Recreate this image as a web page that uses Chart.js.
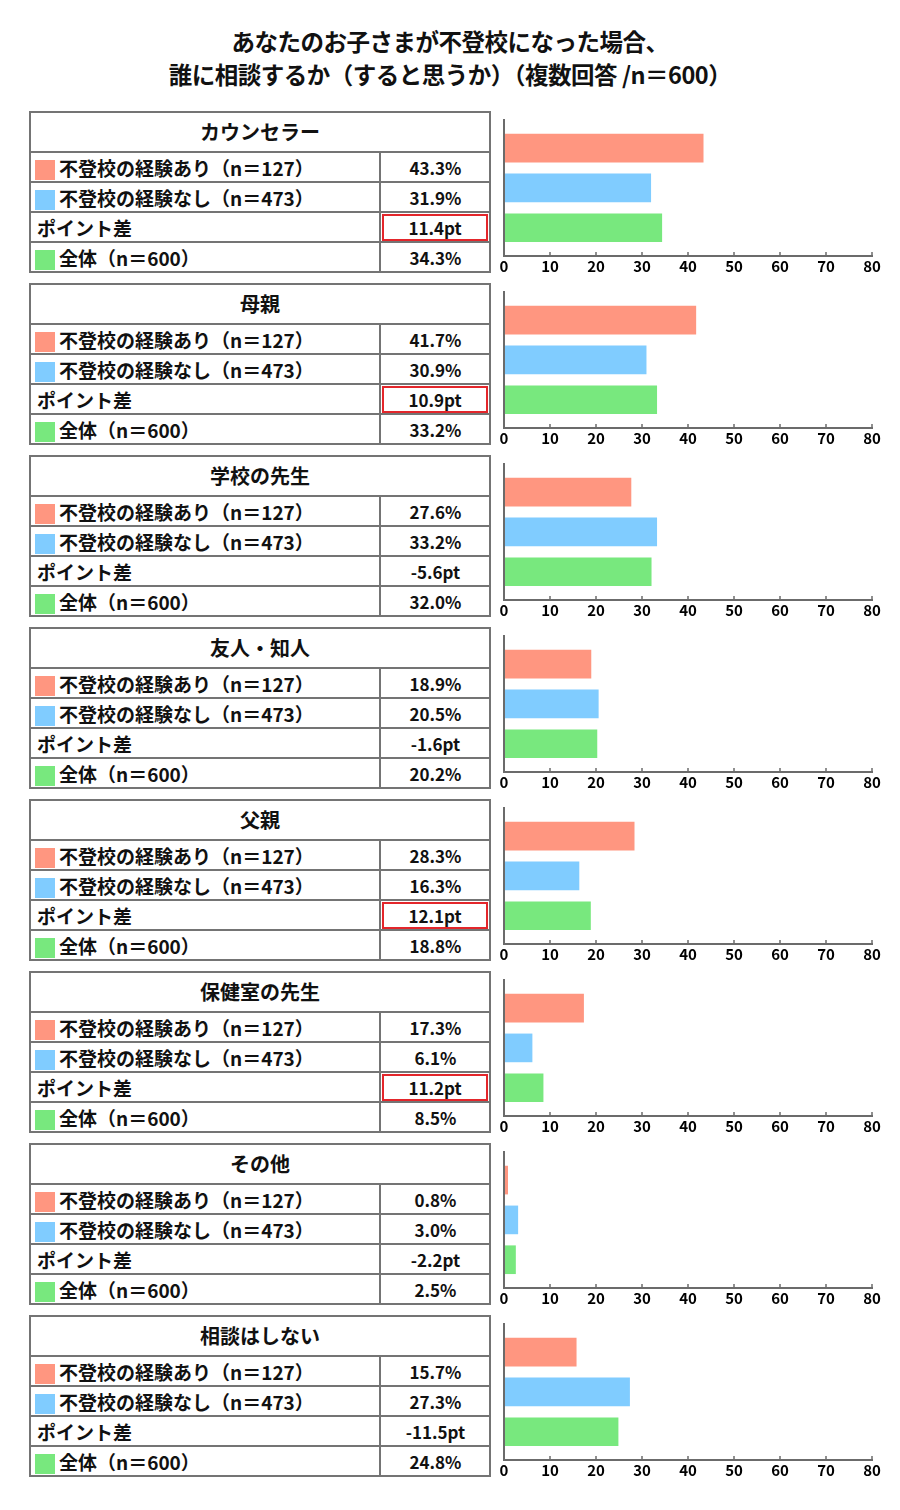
<!DOCTYPE html>
<html lang="ja">
<head>
<meta charset="utf-8">
<script src="https://cdn.jsdelivr.net/npm/chart.js@4.4.1/dist/chart.umd.min.js"></script>
<style>
  body { margin: 0; background: #fff; font-family: "Noto Sans CJK JP", "Noto Sans", sans-serif; color: #111; }
  #page { position: relative; width: 900px; height: 1510px; overflow: hidden; }
  .title { position: absolute; left: 0; top: 25px; width: 900px; text-align: center;
           font-weight: 700; font-size: 23.5px; line-height: 33px; letter-spacing: -0.5px; }
  .box { position: absolute; left: 29px; width: 462px; height: 162px; box-sizing: border-box; border: 2px solid #747474; }
  .head { position: absolute; left: 30px; width: 460px; height: 40px; line-height: 40px; text-align: center;
          font-weight: 700; font-size: 20px; }
  .hline { position: absolute; left: 30px; width: 460px; height: 0; border-top: 2px solid #747474; }
  .vline { position: absolute; left: 379px; width: 0; height: 120px; border-left: 2px solid #747474; }
  .lbl { position: absolute; left: 35px; height: 30px; line-height: 31px; font-weight: 700; font-size: 19px; white-space: nowrap; }
  .lbl .sw { display: inline-block; width: 20px; height: 20px; vertical-align: -4px; margin-right: 4px; }
  .lbl.plain { left: 37px; }
  .val { position: absolute; left: 381px; width: 109px; height: 30px; line-height: 31px; text-align: center;
         font-weight: 700; font-size: 17px; box-sizing: border-box; }
  .val.hot { border: 2.5px solid #e3262b; height: 27px; line-height: 23px; left: 382px; width: 106px; }
  canvas { position: absolute; left: 495px; }
</style>
</head>
<body>
<div id="page">
  <div class="title">あなたのお子さまが不登校になった場合、<br>誰に相談するか（すると思うか）（複数回答 /n＝600）</div>
</div>
<script>
// 相談相手
const categories = ['カウンセラー', '母親', '学校の先生', '友人・知人', '父親', '保健室の先生', 'その他', '相談はしない'];

// 各グループの割合（%）
const withExp    = [43.3, 41.7, 27.6, 18.9, 28.3, 17.3, 0.8, 15.7];
const withoutExp = [31.9, 30.9, 33.2, 20.5, 16.3, 6.1, 3.0, 27.3];
const overall    = [34.3, 33.2, 32.0, 20.2, 18.8, 8.5, 2.5, 24.8];
const pointDiff  = [11.4, 10.9, -5.6, -1.6, 12.1, 11.2, -2.2, -11.5];

const rowLabels = ['不登校の経験あり（n＝127）', '不登校の経験なし（n＝473）', 'ポイント差', '全体（n＝600）'];
const xTicks = [0, 10, 20, 30, 40, 50, 60, 70, 80];

const colors = { withExp: '#ff9680', withoutExp: '#80ccff', overall: '#78e87e' };
const fontFamily = '"Noto Sans CJK JP", "Noto Sans", sans-serif';

// 縦軸の線と目盛りの小さい線
const axisLines = {
    id: 'axisLines',
    afterDraw(chart) {
        const { ctx, chartArea: a, scales: { x } } = chart;
        ctx.save();
        ctx.strokeStyle = '#6b6b6b';
        ctx.lineWidth = 2;
        ctx.beginPath();
        ctx.moveTo(a.left, a.top);
        ctx.lineTo(a.left, a.bottom);
        ctx.stroke();
        ctx.lineWidth = 1.5;
        xTicks.forEach(v => {
            const px = x.getPixelForValue(v);
            ctx.beginPath();
            ctx.moveTo(px, a.bottom);
            ctx.lineTo(px, a.bottom - 4);
            ctx.stroke();
        });
        ctx.restore();
    }
};

const page = document.getElementById('page');

categories.forEach((cat, i) => {
    const top = 112 + i * 172;

    // 左の表
    let html = `<div class="box" style="top:${top - 1}px"></div>`;
    html += `<div class="head" style="top:${top}px">${cat}</div>`;
    html += `<div class="vline" style="top:${top + 40}px"></div>`;

    const swatches = [colors.withExp, colors.withoutExp, null, colors.overall];
    const values = [
        withExp[i].toFixed(1) + '%',
        withoutExp[i].toFixed(1) + '%',
        pointDiff[i].toFixed(1) + 'pt',
        overall[i].toFixed(1) + '%'
    ];

    rowLabels.forEach((label, r) => {
        const rowTop = top + 40 + r * 30;
        html += `<div class="hline" style="top:${rowTop - 1}px"></div>`;
        const sw = swatches[r] ? `<span class="sw" style="background:${swatches[r]}"></span>` : '';
        html += `<div class="lbl${swatches[r] ? '' : ' plain'}" style="top:${rowTop}px">${sw}${label}</div>`;
        const hot = r === 2 && pointDiff[i] >= 10;
        const valTop = hot ? rowTop + 2 : rowTop;
        html += `<div class="val${hot ? ' hot' : ''}" style="top:${valTop}px">${values[r]}</div>`;
    });
    page.insertAdjacentHTML('beforeend', html);

    // 右のグラフ
    const canvas = document.createElement('canvas');
    canvas.width = 400;
    canvas.height = 164;
    canvas.style.top = top + 'px';
    page.appendChild(canvas);

    new Chart(canvas.getContext('2d'), {
        type: 'bar',
        data: {
            datasets: [{
                data: [
                    { x: withExp[i], y: 1 },
                    { x: withoutExp[i], y: 2 },
                    { x: overall[i], y: 3 }
                ],
                backgroundColor: [colors.withExp, colors.withoutExp, colors.overall],
                barThickness: 28
            }]
        },
        options: {
            indexAxis: 'y',
            responsive: false,
            animation: false,
            layout: { padding: { left: 9, right: 23, top: 7, bottom: 0 } },
            plugins: { legend: { display: false }, tooltip: { enabled: false } },
            scales: {
                x: {
                    min: 0,
                    max: 80,
                    afterBuildTicks: s => { s.ticks = xTicks.map(v => ({ value: v })); },
                    grid: { display: false, drawTicks: false },
                    border: { color: '#6b6b6b', width: 2 },
                    ticks: {
                        color: '#000',
                        padding: 1,
                        maxRotation: 0,
                        font: { family: fontFamily, size: 15, weight: 'bold' }
                    }
                },
                y: {
                    type: 'linear',
                    reverse: true,
                    bounds: 'data',
                    offset: false,
                    min: 0.27,
                    max: 3.71,
                    afterBuildTicks: s => { s.min = 0.27; s.max = 3.71; },
                    display: false
                }
            }
        },
        plugins: [axisLines]
    });
});
</script>
</body>
</html>
